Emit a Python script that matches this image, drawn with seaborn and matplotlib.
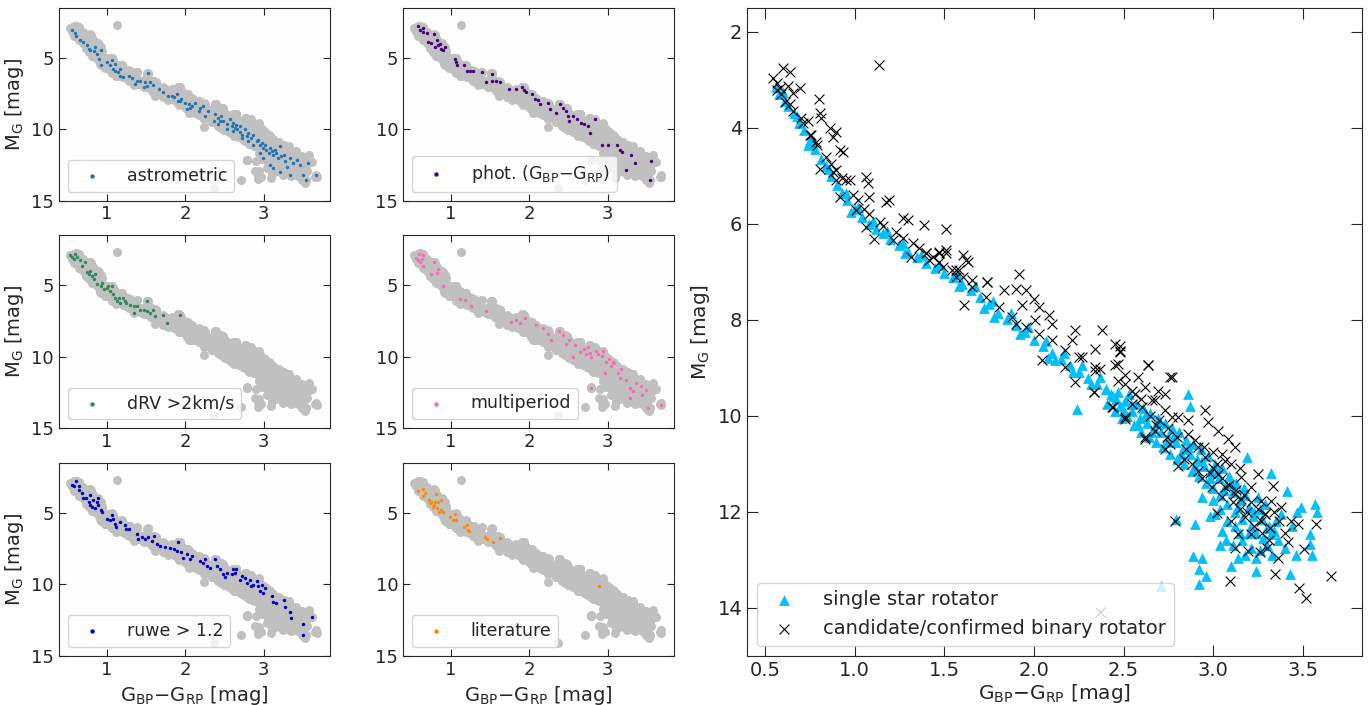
import numpy as np
import matplotlib
matplotlib.use("Agg")
import matplotlib.pyplot as plt
import seaborn as sns

# single star rotators (BP-RP colour, M_G)
single_stars = [
    (0.56, 3.15), (0.58, 3.3), (0.61, 3.45), (0.63, 3.55), (0.66, 3.7), (0.69, 3.9),
    (0.72, 4.05), (0.75, 4.25), (0.78, 4.45), (0.81, 4.65), (0.84, 4.8), (0.87, 5.0),
    (0.90, 5.2), (0.93, 5.35), (0.96, 5.5), (1.00, 5.7), (1.04, 5.85), (1.08, 6.0),
    (1.12, 6.1), (1.16, 6.2), (1.20, 6.32), (1.25, 6.45), (1.30, 6.58), (1.35, 6.7),
    (1.40, 6.82), (1.45, 6.92), (1.50, 7.02), (1.55, 7.12), (1.60, 7.25), (1.65, 7.38),
    (1.70, 7.52), (1.75, 7.68), (1.80, 7.85), (1.85, 7.98), (1.90, 8.12), (1.95, 8.25),
    (2.00, 8.42), (2.05, 8.55), (2.10, 8.7), (2.15, 8.82), (2.20, 8.95), (2.25, 9.08),
    (2.30, 9.22), (2.35, 9.35), (2.40, 9.45), (2.24, 9.87),
    (0.74, 4.35), (0.98, 5.75), (1.28, 6.6), (1.58, 7.3), (1.78, 7.95), (2.08, 8.8),
    (0.60, 3.25), (0.68, 3.75), (0.77, 4.3), (0.86, 4.85), (0.95, 5.35), (1.02, 5.65),
    (1.10, 5.95), (1.18, 6.15), (1.27, 6.4), (1.37, 6.65), (1.47, 6.85), (1.57, 7.05),
    (1.67, 7.3), (1.77, 7.6), (1.87, 7.85), (1.97, 8.15), (2.07, 8.45), (2.17, 8.7),
    (2.27, 8.95), (2.37, 9.2), (2.12, 8.85), (2.22, 9.1), (2.32, 9.35), (1.92, 8.3),
    (1.72, 7.75),
    (2.43, 9.54), (2.86, 9.54), (2.87, 9.8),
    (2.40, 9.45), (2.41, 9.75), (2.44, 9.6), (2.45, 9.9), (2.47, 9.5), (2.48, 9.8),
    (2.49, 10.05), (2.51, 9.7), (2.52, 10.0), (2.53, 9.55), (2.55, 9.9), (2.56, 10.2),
    (2.57, 9.75), (2.59, 10.05), (2.60, 10.35), (2.61, 9.85), (2.63, 10.15), (2.64, 10.45),
    (2.65, 9.95), (2.67, 10.25), (2.68, 10.55), (2.69, 10.05), (2.71, 10.35), (2.72, 10.65),
    (2.73, 10.15), (2.75, 10.45), (2.76, 10.8), (2.77, 10.25), (2.79, 10.55), (2.80, 10.9),
    (2.81, 10.35), (2.83, 10.7), (2.84, 11.0), (2.85, 10.5), (2.87, 10.8), (2.88, 11.15),
    (2.89, 10.6), (2.91, 10.9), (2.92, 11.25), (2.93, 10.7), (2.95, 11.05), (2.96, 11.4),
    (2.97, 10.85), (2.99, 11.15), (3.00, 11.5), (3.01, 11.0), (3.03, 11.3), (3.04, 11.65),
    (3.05, 11.1), (3.07, 11.45), (3.08, 11.85), (3.09, 11.25), (3.11, 11.6), (3.12, 12.0),
    (3.13, 11.4), (3.15, 11.75), (3.16, 12.15), (3.17, 11.5), (3.19, 10.87), (3.20, 11.9),
    (3.21, 12.3), (3.23, 12.0), (3.24, 12.45), (3.25, 11.7), (3.27, 12.15), (3.28, 12.55),
    (3.29, 11.85), (3.32, 11.2), (3.32, 12.47), (3.31, 12.3), (3.35, 12.2), (3.36, 12.6),
    (3.41, 11.56), (3.49, 11.9), (3.57, 11.83), (3.54, 12.46), (3.54, 12.67), (3.47, 12.0),
    (2.94, 11.7), (3.01, 12.04), (2.79, 12.15), (2.90, 12.25), (2.89, 12.92), (2.94, 12.96),
    (2.92, 13.2), (2.96, 13.33), (3.10, 13.13), (3.14, 12.96), (3.24, 13.23), (3.24, 12.96),
    (3.43, 13.3), (3.07, 12.6), (3.11, 12.7), (3.21, 12.75), (3.30, 12.7), (3.05, 12.4),
    (3.15, 12.45), (2.71, 13.55), (2.92, 13.5),
    (2.46, 9.65), (2.50, 9.9), (2.54, 9.75), (2.58, 10.2), (2.62, 10.0), (2.66, 10.35),
    (2.70, 10.15), (2.74, 10.55), (2.78, 10.4), (2.82, 10.8), (2.86, 10.65), (2.90, 11.05),
    (2.94, 10.95), (2.98, 11.3), (3.02, 11.2), (3.06, 11.55), (3.10, 11.4), (3.14, 11.9),
    (3.18, 11.65), (3.22, 12.1), (3.26, 11.95), (3.30, 12.35), (3.34, 12.4), (3.00, 11.75),
    (3.04, 11.95), (3.08, 12.2), (3.12, 12.3), (3.16, 12.6), (3.20, 12.45), (3.26, 12.8),
    (3.33, 12.9), (3.18, 12.9), (3.04, 12.7), (2.98, 12.1), (3.38, 12.05), (3.44, 12.3),
    (3.40, 12.75), (3.46, 12.9), (3.55, 12.9), (3.58, 12.0),
]

# candidate / confirmed binary rotators
binary_stars = [
    (0.546, 2.97), (0.602, 2.76), (0.639, 2.83), (0.565, 3.07), (0.583, 3.18), (0.63, 3.14),
    (0.657, 3.28), (0.694, 3.18), (0.802, 3.41), (0.805, 3.70), (0.815, 3.80), (0.74, 3.87),
    (0.861, 4.01), (0.898, 4.08), (0.88, 4.19), (0.917, 4.46), (0.935, 4.5), (0.787, 4.29),
    (0.75, 4.15), (0.805, 4.85), (0.88, 4.92), (0.917, 5.44), (0.972, 5.09), (1.065, 5.02),
    (1.074, 5.16), (1.083, 5.44), (1.176, 5.54), (1.194, 5.51), (1.268, 5.89), (1.296, 5.93),
    (1.065, 6.07), (1.111, 6.31), (1.389, 6.03), (1.509, 6.1), (1.472, 6.59), (1.509, 6.62),
    (1.62, 6.76), (1.583, 6.97), (1.741, 7.21), (1.315, 6.69), (1.213, 6.34), (1.009, 5.72),
    (0.898, 5.09), (1.135, 2.69),
    (0.565, 3.21), (0.611, 3.46), (0.657, 3.66), (0.713, 3.91), (0.759, 4.15), (0.843, 4.6),
    (0.898, 4.88), (0.954, 5.09), (1.018, 5.51), (1.083, 5.79), (1.139, 5.96), (1.231, 6.17),
    (1.324, 6.41), (1.398, 6.62), (1.472, 6.8), (1.565, 6.97), (1.657, 7.18),
    (0.59, 3.3), (0.64, 3.5), (0.70, 3.8), (0.79, 4.35), (0.87, 4.75), (0.93, 5.05),
    (0.99, 5.4), (1.05, 5.7), (1.16, 6.05), (1.27, 6.3), (1.36, 6.5), (1.44, 6.7),
    (1.398, 6.62), (1.472, 6.62), (1.509, 6.55), (1.602, 6.66), (1.63, 6.80), (1.546, 6.97),
    (1.602, 7.11), (1.917, 7.04), (1.741, 7.21), (1.833, 7.39), (1.898, 7.35), (1.954, 7.39),
    (2.0, 7.56), (1.935, 7.70), (1.611, 7.70), (2.028, 7.74), (2.083, 7.91), (2.102, 8.08),
    (2.009, 8.01), (1.898, 8.08), (2.231, 8.22), (2.38, 8.22), (2.213, 8.43), (2.343, 8.61),
    (2.454, 8.5), (2.481, 8.68), (2.25, 8.78), (2.046, 8.85), (2.176, 8.99), (2.370, 9.02),
    (2.472, 8.92), (2.639, 8.95), (2.509, 9.16), (2.583, 9.2), (2.768, 9.2), (2.231, 9.3),
    (2.333, 9.51), (2.435, 9.82), (2.509, 10.03), (2.62, 10.48), (2.731, 10.69),
    (2.694, 9.48), (2.62, 9.4),
    (1.417, 6.76), (1.491, 6.9), (1.565, 7.11), (1.657, 7.32), (1.731, 7.53), (1.806, 7.74),
    (1.88, 7.94), (1.954, 8.15), (2.028, 8.29), (2.102, 8.43), (2.176, 8.64), (2.269, 8.78),
    (2.343, 8.99), (2.472, 9.27), (2.546, 9.48), (2.657, 9.68), (2.768, 10.03),
    (2.343, 9.06), (2.454, 8.95), (2.639, 8.95), (2.759, 9.2), (2.333, 9.51), (2.444, 9.82),
    (2.509, 10.07), (2.62, 10.45), (2.676, 10.31), (2.741, 10.45), (2.806, 11.04),
    (2.861, 10.1), (2.954, 9.89), (2.972, 10.14), (3.028, 10.31), (3.083, 10.49),
    (3.12, 10.66), (3.0, 11.08), (3.028, 11.22), (3.12, 11.63), (3.157, 11.74), (3.25, 11.22),
    (3.333, 11.46), (3.324, 11.77), (3.38, 11.91), (3.435, 12.19), (3.472, 12.26),
    (3.574, 12.26), (3.213, 12.47), (3.259, 12.85), (3.361, 12.96), (3.417, 12.64),
    (3.509, 12.78), (3.12, 12.75), (3.194, 12.82), (2.787, 12.19), (3.093, 13.44),
    (3.343, 13.30), (3.481, 13.58), (3.519, 13.79), (3.657, 13.34), (3.019, 12.02),
    (3.102, 12.19), (2.509, 9.34), (2.565, 9.55), (2.676, 9.68), (2.731, 9.89), (2.806, 10.03),
    (2.861, 10.38), (2.917, 10.66), (2.954, 10.87), (3.065, 10.94), (3.157, 11.28),
    (3.213, 11.49), (3.269, 11.77), (3.287, 12.05), (3.065, 11.49), (2.991, 11.49),
    (2.917, 11.15), (3.176, 12.12), (3.269, 12.19), (3.315, 12.33), (3.139, 12.47),
    (2.731, 9.55), (2.602, 9.82), (2.37, 14.1), (2.48, 8.55), (2.48, 8.65),
    (2.90, 10.5), (2.95, 10.65), (3.05, 10.8), (3.10, 11.0), (3.15, 11.1), (3.05, 11.3),
    (3.09, 11.45), (3.13, 11.55), (3.17, 11.65), (3.21, 11.8), (3.25, 11.95), (3.29, 12.05),
    (3.11, 11.8), (3.15, 11.95), (3.19, 12.0), (3.23, 12.3), (3.27, 12.45), (3.31, 12.6),
    (2.70, 10.1), (2.65, 10.0), (2.60, 9.65), (2.55, 9.75), (2.75, 10.25), (2.80, 10.45),
    (2.85, 10.7), (3.00, 10.75), (3.02, 11.0), (2.98, 11.2), (3.34, 12.0), (3.37, 12.2),
    (3.30, 12.75), (3.40, 12.45), (3.05, 11.7), (2.94, 11.3), (2.88, 11.0), (2.84, 10.9),
    (2.76, 10.6), (2.68, 10.2),
]

astrometric = [
    (0.555, 3.07), (0.597, 3.30), (0.61, 3.47), (0.70, 3.89), (0.75, 4.13), (0.79, 4.43),
    (0.83, 4.53), (0.87, 4.72), (0.90, 5.07), (0.77, 4.36), (0.92, 5.54), (1.0, 5.31),
    (1.04, 5.54), (1.08, 5.78), (1.11, 5.94), (1.14, 6.01), (1.17, 5.78), (1.06, 5.19),
    (1.28, 6.30), (1.32, 6.42), (1.38, 6.60), (1.42, 6.65), (1.49, 6.72), (1.52, 6.08),
    (1.55, 6.72), (1.59, 6.89), (1.51, 6.96), (1.36, 6.84), (1.21, 6.37), (1.83, 7.67),
    (1.85, 7.78), (1.89, 7.55), (1.93, 8.02), (1.95, 7.9), (1.99, 8.14), (2.04, 8.25),
    (2.06, 8.49), (2.08, 8.37), (2.12, 8.14), (2.19, 8.49), (2.23, 8.37), (2.25, 9.08),
    (2.38, 8.96), (2.42, 9.2), (2.44, 9.43), (2.46, 9.08), (2.48, 9.43), (2.53, 9.67),
    (2.57, 9.32), (2.59, 9.79), (2.61, 9.55), (2.63, 9.91), (2.65, 9.72), (2.66, 10.02),
    (2.69, 9.79), (2.69, 10.19), (2.72, 10.38), (2.76, 10.02), (2.78, 10.5), (2.80, 10.26),
    (2.84, 10.61), (2.86, 10.38), (2.91, 10.85), (2.93, 10.73), (2.95, 11.08), (2.97, 10.97),
    (2.99, 11.32), (3.01, 11.13), (3.03, 11.44), (3.06, 11.67), (3.08, 11.32), (3.10, 11.56),
    (3.12, 11.79), (3.14, 11.44), (3.16, 11.67), (3.18, 12.03), (3.20, 11.2), (3.22, 11.91),
    (3.25, 11.79), (3.27, 12.26), (3.29, 12.62), (3.33, 12.03), (3.37, 12.38), (3.42, 12.15),
    (3.46, 12.5), (3.50, 13.21), (3.53, 13.56), (3.56, 12.38), (3.67, 13.21), (3.33, 13.21),
    (3.20, 12.97), (3.08, 12.5), (3.12, 12.74), (2.99, 12.03), (2.95, 11.67), (2.86, 11.08),
    (2.80, 10.85), (2.72, 10.61), (2.61, 10.14), (2.53, 10.02), (2.42, 9.67), (2.36, 9.43),
    (2.29, 8.73), (2.17, 8.73), (2.02, 8.61), (1.91, 8.02), (1.78, 7.67), (1.72, 7.43),
    (1.66, 7.19), (1.47, 7.03), (1.17, 6.25), (1.11, 5.42), (0.85, 4.25), (0.66, 3.77),
    (0.92, 4.48),
]

phot_color = [
    (0.585, 2.78), (0.61, 3.07), (0.65, 3.18), (0.69, 3.30), (0.64, 2.95), (0.71, 3.89),
    (0.75, 3.96), (0.79, 3.35), (0.82, 3.73), (0.84, 4.13), (0.86, 4.01), (0.88, 4.36),
    (0.90, 4.48), (0.92, 4.25), (0.80, 4.25), (1.05, 5.07), (1.06, 5.31), (1.08, 5.54),
    (1.17, 5.54), (1.20, 5.90), (1.24, 5.90), (1.28, 5.94), (1.39, 6.01), (1.45, 6.72),
    (1.52, 6.13), (1.52, 6.60), (1.58, 6.60), (1.62, 6.72), (1.74, 7.19), (1.83, 7.19),
    (1.91, 7.03), (1.93, 7.26), (1.96, 7.43), (2.03, 7.55), (2.07, 7.90), (2.11, 7.97),
    (2.13, 8.25), (2.24, 8.14), (2.26, 8.61), (2.39, 8.21), (2.43, 8.49), (2.47, 8.73),
    (2.49, 9.08), (2.56, 9.08), (2.60, 9.32), (2.66, 9.55), (2.70, 9.67), (2.75, 9.79),
    (2.77, 10.26), (2.83, 9.32), (2.92, 11.08), (3.00, 11.08), (3.11, 11.08), (3.15, 11.44),
    (3.18, 11.6), (3.30, 11.84), (3.35, 12.38), (3.23, 12.85), (3.53, 13.56), (3.55, 12.22),
    (2.51, 9.43), (2.34, 8.84),
]

drv = [
    (0.534, 2.91), (0.555, 3.03), (0.576, 3.15), (0.597, 2.80), (0.62, 3.03), (0.66, 3.22),
    (0.68, 3.63), (0.72, 3.39), (0.75, 4.10), (0.77, 4.22), (0.79, 3.98), (0.81, 4.34),
    (0.83, 4.58), (0.85, 4.22), (0.87, 4.93), (0.92, 5.05), (0.94, 4.81), (0.96, 5.28),
    (1.0, 5.17), (1.04, 5.40), (1.06, 5.05), (1.08, 5.64), (1.11, 5.88), (1.13, 6.11),
    (1.15, 5.88), (1.17, 6.23), (1.21, 5.88), (1.25, 6.23), (1.30, 6.35), (1.34, 6.47),
    (1.38, 6.47), (1.42, 6.71), (1.47, 6.71), (1.51, 6.11), (1.51, 6.82), (1.55, 6.94),
    (1.59, 6.71), (1.61, 7.18), (1.72, 7.06), (1.76, 7.65), (1.93, 7.06), (1.34, 6.94),
    (1.23, 6.11), (1.02, 5.05),
]

multiperiod = [
    (0.555, 3.07), (0.576, 3.21), (0.60, 2.79), (0.61, 3.38), (0.63, 3.14), (0.64, 2.90),
    (0.65, 3.62), (0.75, 4.21), (0.78, 3.38), (0.82, 4.17), (0.84, 3.86), (0.90, 5.05),
    (1.11, 5.93), (1.18, 6.0), (1.26, 6.43), (1.45, 6.83), (1.77, 7.55), (1.83, 7.43),
    (1.88, 7.67), (1.94, 7.31), (2.09, 7.79), (2.17, 8.02), (2.24, 8.38), (2.27, 8.86),
    (2.38, 8.21), (2.43, 8.5), (2.47, 9.1), (2.51, 8.86), (2.58, 9.21), (2.64, 9.64),
    (2.70, 9.45), (2.72, 9.81), (2.75, 9.33), (2.77, 9.74), (2.79, 10.05), (2.85, 9.57),
    (2.87, 9.81), (2.92, 9.93), (2.94, 9.57), (2.98, 10.40), (3.02, 10.17), (3.04, 10.64),
    (3.06, 10.40), (3.08, 10.45), (3.13, 11.12), (3.15, 11.48), (3.23, 11.6), (3.28, 12.19),
    (3.36, 11.83), (3.42, 12.07), (3.49, 12.31), (3.28, 12.9), (2.79, 12.19), (3.32, 12.43),
    (3.44, 12.67), (3.51, 13.62), (3.68, 13.38), (2.96, 11.12), (2.56, 10.05), (3.17, 10.88),
]

ruwe = [
    (0.555, 3.08), (0.585, 3.15), (0.61, 2.75), (0.64, 3.15), (0.65, 3.39), (0.68, 3.63),
    (0.70, 3.98), (0.74, 3.98), (0.77, 4.22), (0.79, 4.45), (0.81, 4.57), (0.82, 4.10),
    (0.85, 4.69), (0.87, 4.22), (0.89, 4.45), (0.92, 4.81), (0.94, 4.93), (0.89, 3.98),
    (1.0, 5.40), (1.04, 5.52), (1.08, 5.40), (1.11, 5.76), (1.12, 6.00), (1.06, 5.17),
    (1.23, 5.83), (1.28, 6.11), (1.25, 6.16), (1.38, 6.47), (1.45, 6.71), (1.49, 6.82),
    (1.53, 6.71), (1.57, 6.94), (1.60, 6.64), (1.64, 7.18), (1.68, 7.35), (1.74, 7.42),
    (1.81, 7.49), (1.85, 7.54), (1.89, 7.65), (1.91, 7.06), (1.95, 7.77), (1.97, 8.13),
    (2.02, 7.89), (2.06, 8.25), (2.08, 8.01), (2.19, 8.36), (2.23, 8.48), (2.27, 8.72),
    (2.31, 8.84), (2.38, 8.25), (2.40, 8.72), (2.44, 8.96), (2.48, 9.31), (2.50, 9.48),
    (2.53, 9.19), (2.59, 9.31), (2.63, 9.19), (2.65, 8.96), (2.69, 9.67), (2.72, 9.43),
    (2.76, 9.55), (2.78, 9.91), (2.82, 9.67), (2.84, 10.14), (2.86, 10.02), (2.91, 9.79),
    (2.93, 10.14), (2.95, 10.50), (2.97, 10.02), (2.99, 10.62), (3.01, 10.26), (3.10, 10.85),
    (3.12, 11.21), (3.16, 11.33), (3.25, 11.09), (3.27, 11.56), (3.33, 11.92), (3.35, 12.39),
    (3.50, 12.75), (3.61, 12.27), (3.50, 13.58), (2.61, 8.96), (2.25, 8.25), (1.40, 6.82),
    (1.17, 5.64), (0.79, 3.75),
]

literature = [
    (0.585, 3.46), (0.64, 3.32), (0.67, 3.63), (0.65, 3.79), (0.72, 4.10), (0.73, 4.34),
    (0.75, 4.22), (0.77, 4.57), (0.78, 4.46), (0.81, 3.70), (0.82, 4.69), (0.84, 4.22),
    (0.85, 4.93), (0.87, 4.10), (0.88, 4.81), (0.90, 4.93), (0.80, 4.22), (0.99, 5.28),
    (1.05, 5.05), (1.03, 5.52), (1.06, 5.52), (1.17, 5.99), (1.20, 5.87), (1.22, 6.18),
    (1.23, 6.30), (1.44, 6.70), (1.46, 6.82), (1.54, 7.06), (1.63, 6.77), (2.89, 10.13),
]

xlabel = r'G$_\mathrm{BP}$$-$G$_\mathrm{RP}$ [mag]'
ylabel = r'M$_\mathrm{G}$ [mag]'

panels = [
    (astrometric, '#1f77b4', 'astrometric'),
    (phot_color, 'indigo', r'phot. (G$_\mathrm{BP}$$-$G$_\mathrm{RP}$)'),
    (drv, 'seagreen', 'dRV >2km/s'),
    (multiperiod, 'hotpink', 'multiperiod'),
    (ruwe, 'mediumblue', 'ruwe > 1.2'),
    (literature, 'darkorange', 'literature'),
]

sns.set_style('ticks')
plt.rcParams['font.family'] = ['DejaVu Sans']

single = np.array(single_stars)
binary = np.array(binary_stars)
everything = np.vstack([single, binary] + [np.array(p[0]) for p in panels])

fig = plt.figure(figsize=(13.71, 7.05), dpi=100)
gs = fig.add_gridspec(3, 4, left=0.043, right=0.9934, top=0.989, bottom=0.07,
                      wspace=0.27, hspace=0.18)

for i, (pts, col, lab) in enumerate(panels):
    row, c = divmod(i, 2)
    ax = fig.add_subplot(gs[row, c])
    ax.set_facecolor('#fdfdfd')
    pts = np.array(pts)
    sns.scatterplot(x=everything[:, 0], y=everything[:, 1], ax=ax, color='silver',
                    s=42, linewidth=0)
    sns.scatterplot(x=pts[:, 0], y=pts[:, 1], ax=ax, color=col, s=6, linewidth=0,
                    label=lab)
    ax.set_xlim(0.39, 3.84)
    ax.set_ylim(15, 1.5)
    ax.set_xticks([1, 2, 3])
    ax.set_yticks([5, 10, 15])
    ax.tick_params(direction='in', top=True, right=True, length=5, labelsize=13)
    ax.legend(loc='lower left', fontsize=12.5, handletextpad=1.0, markerscale=1.3)
    ax.set_xlabel(xlabel if row == 2 else '', fontsize=14)
    ax.set_ylabel(ylabel if c == 0 else '', fontsize=14)

ax = fig.add_subplot(gs[:, 2:])
sns.scatterplot(x=single[:, 0], y=single[:, 1], ax=ax, color='deepskyblue', marker='^',
                s=60, linewidth=0, label='single star rotator')
sns.scatterplot(x=binary[:, 0], y=binary[:, 1], ax=ax, color='black', marker='x',
                s=50, linewidth=0.8, label='candidate/confirmed binary rotator')
ax.set_xlim(0.40, 3.83)
ax.set_ylim(15, 1.5)
ax.set_xticks([0.5, 1.0, 1.5, 2.0, 2.5, 3.0, 3.5])
ax.set_yticks([2, 4, 6, 8, 10, 12, 14])
ax.tick_params(direction='in', top=True, right=True, length=8, labelsize=14)
ax.set_xlabel(xlabel, fontsize=14.5, labelpad=2)
ax.set_ylabel(ylabel, fontsize=14.5)
ax.legend(loc='lower left', fontsize=14, handletextpad=1.0)

plt.savefig('out.png', dpi=100)
